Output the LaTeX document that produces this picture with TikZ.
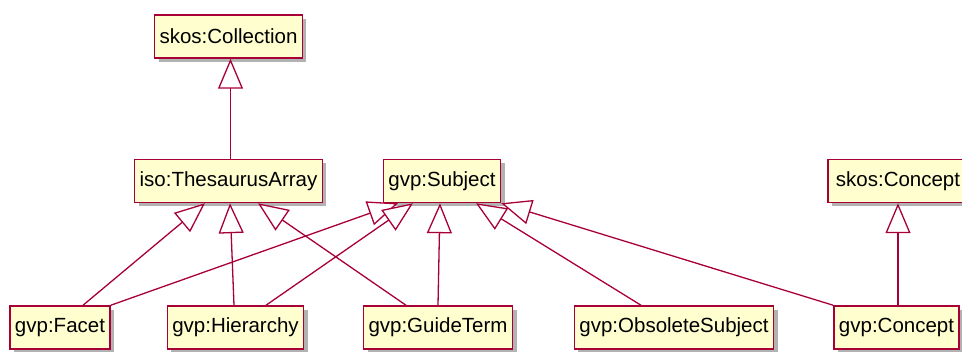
\documentclass[tikz,border=0pt]{standalone}
\usepackage{fontspec}
\setmainfont{Liberation Sans}
\usetikzlibrary{arrows.meta,shadows}
\definecolor{umlred}{HTML}{A80036}
\definecolor{umlfill}{HTML}{FEFECE}

\begin{document}
\begin{tikzpicture}[x=1pt, y=-1pt,
	cls/.style={draw=umlred, fill=umlfill, line width=1.5pt, inner xsep=5pt, inner ysep=0pt, minimum height=43pt, font=\fontsize{20.5}{24}\selectfont, drop shadow={shadow xshift=4pt, shadow yshift=-4pt, fill=black, opacity=.3}},
	isa/.style={draw=umlred, line width=1.3pt, -{Triangle[fill=white, length=30pt, width=25pt]}}]
	\useasboundingbox (0, 0) rectangle (962, 352);
	\node[cls] (coll) at (228.5, 36.5) {skos:Collection};
	\node[cls] (tarr) at (228.5, 181) {iso:ThesaurusArray};
	\node[cls] (subj) at (442, 181) {gvp:Subject};
	\node[cls, minimum width=140pt] (sconc) at (898, 181) {skos:Concept};
	\node[cls] (facet) at (60, 327.5) {gvp:Facet};
	\node[cls] (hier) at (235.5, 327.5) {gvp:Hierarchy};
	\node[cls] (guide) at (438, 327.5) {gvp:GuideTerm};
	\node[cls] (obs) at (674, 327.5) {gvp:ObsoleteSubject};
	\node[cls] (conc) at (896.5, 327.5) {gvp:Concept};
	% generalisations
	\draw[isa] ([xshift=2pt]tarr.north) to ([xshift=2pt]coll.south);
	\draw[isa] ([xshift=23pt]facet.north) to ([xshift=-23.5pt]tarr.south);
	\draw[isa] (facet.north east) to ([xshift=-44pt]subj.south);
	\draw[isa] ([xshift=-1.5pt]hier.north) to ([xshift=1.5pt]tarr.south);
	\draw[isa] ([xshift=30.5pt]hier.north) to ([xshift=-29pt]subj.south);
	\draw[isa] ([xshift=-32pt]guide.north) to ([xshift=29.5pt]tarr.south);
	\draw[isa] (guide.north) to ([xshift=-2pt]subj.south);
	\draw[isa] ([xshift=-33pt]obs.north) to ([xshift=34pt]subj.south);
	\draw[isa] (conc.north west) to (subj.south east);
	\draw[isa] ([xshift=1.5pt]conc.north) to (sconc.south);
\end{tikzpicture}
\end{document}
